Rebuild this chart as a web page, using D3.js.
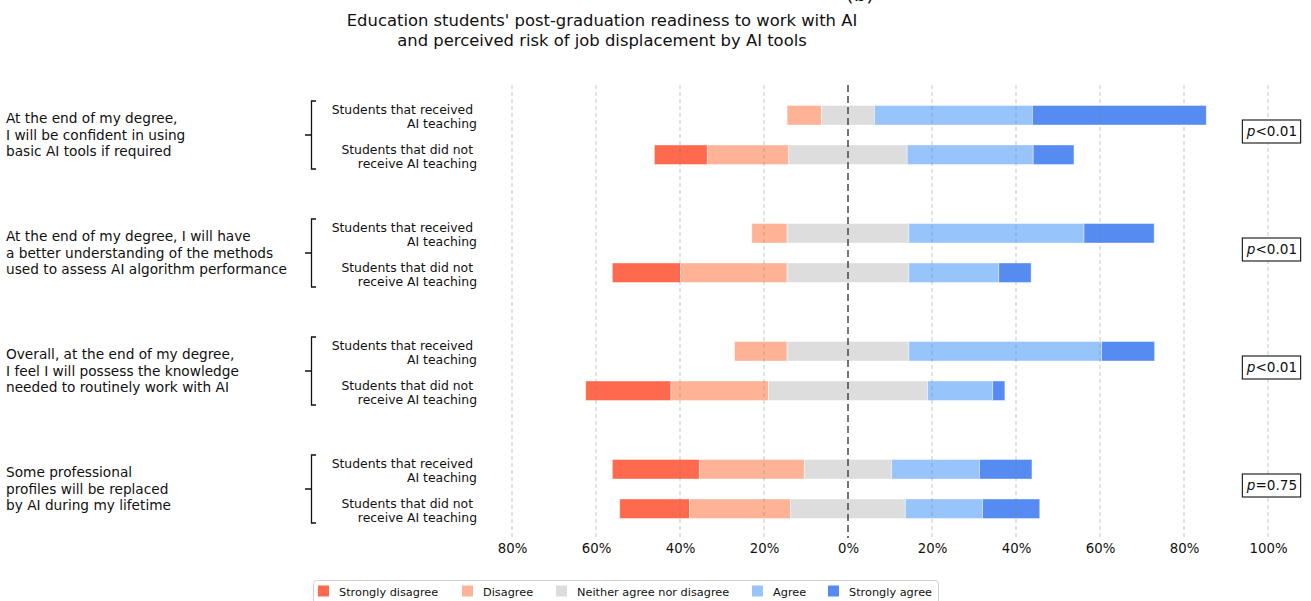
<!DOCTYPE html>
<html>
<head>
<meta charset="utf-8">
<script src="https://cdn.jsdelivr.net/npm/d3@7/dist/d3.min.js"></script>
<style>
  html, body { margin: 0; padding: 0; background: #fff; }
  svg { display: block; font-family: "DejaVu Sans", sans-serif; }
</style>
</head>
<body>
<svg id="chart" width="1311" height="601"></svg>
<script>
// Survey statements (each one drawn as a group of two bars)
const statements = [
  ["At the end of my degree,", "I will be confident in using", "basic AI tools if required"],
  ["At the end of my degree, I will have", "a better understanding of the methods", "used to assess AI algorithm performance"],
  ["Overall, at the end of my degree,", "I feel I will possess the knowledge", "needed to routinely work with AI"],
  ["Some professional", "profiles will be replaced", "by AI during my lifetime"]
];
const cohorts = ["received", "notReceived"];
const cohortLabels = [
  ["Students that received ", "AI teaching"],
  ["Students that did not ", "receive AI teaching"]
];
const responses = ["Strongly disagree", "Disagree", "Neither agree nor disagree", "Agree", "Strongly agree"];
const responseColors = ["#ff6a4f", "#ffb396", "#dcdddc", "#98c4fc", "#568bf2"];

// Percent of each cohort giving each response, per statement
const received = [
  [0.0, 8.2, 12.6, 37.6, 41.4],
  [0.0, 8.4, 29.0, 41.7, 16.7],
  [0.0, 12.5, 29.0, 45.9, 12.6],
  [20.7, 25.0, 20.8, 20.9, 12.5]
];
const notReceived = [
  [12.6, 19.4, 28.2, 30.0, 9.7],
  [16.2, 25.4, 29.0, 21.4, 7.7],
  [20.3, 23.2, 37.9, 15.5, 2.9],
  [16.6, 24.1, 27.3, 18.4, 13.6]
];
const pValues = ["<0.01", "<0.01", "<0.01", "=0.75"];
const tickValues = [-80, -60, -40, -20, 0, 20, 40, 60, 80, 100];

const svg = d3.select("#chart");

const x = d3.scaleLinear().domain([-80, 100]).range([512, 1268]);
const yGroup = d3.scaleBand().domain(d3.range(statements.length)).range([76, 548]);
const ySub = d3.scalePoint().domain(cohorts).range([-19.75, 19.75]);
const barH = 19.5;
const color = d3.scaleOrdinal().domain(responses).range(responseColors);

// Diverging stack: half of the neutral share sits on each side of zero
function segments(vals) {
  let start = -(vals[0] + vals[1] + vals[2] / 2);
  return vals.map((v, i) => {
    const s = { key: responses[i], x0: start, x1: start + v };
    start += v;
    return s;
  }).filter(s => s.x1 - s.x0 > 0);
}

const rows = [];
statements.forEach((st, g) => {
  rows.push({ g, cohort: "received", segs: segments(received[g]) });
  rows.push({ g, cohort: "notReceived", segs: segments(notReceived[g]) });
});

// Panel letter (sits at the very top edge) and title
const title = svg.append("g").attr("text-anchor", "middle").attr("fill", "#111");
title.append("text").attr("x", 860).attr("y", 1).attr("font-size", 20).text("(b)");
title.append("text").attr("x", 602).attr("y", 26).attr("font-size", 16.4)
  .text("Education students' post-graduation readiness to work with AI");
title.append("text").attr("x", 602).attr("y", 46).attr("font-size", 16.4)
  .text("and perceived risk of job displacement by AI tools");

// Bars
const barG = svg.append("g");
rows.forEach(r => {
  const cy = yGroup(r.g) + yGroup.bandwidth() / 2 + ySub(r.cohort);
  barG.selectAll(null).data(r.segs).join("rect")
    .attr("x", d => x(d.x0))
    .attr("width", d => x(d.x1) - x(d.x0))
    .attr("y", cy - barH / 2)
    .attr("height", barH)
    .attr("fill", d => color(d.key))
    .attr("stroke", "rgba(255,255,255,0.5)")
    .attr("stroke-width", 0.8);
});

// Grid lines drawn over the bars
const gridTop = 85, gridBottom = 538;
svg.append("g").selectAll("line").data(tickValues.filter(v => v !== 0)).join("line")
  .attr("x1", d => x(d)).attr("x2", d => x(d))
  .attr("y1", gridTop).attr("y2", gridBottom)
  .attr("stroke", "rgba(120,120,120,0.42)")
  .attr("stroke-width", 1)
  .attr("stroke-dasharray", "4,3");
svg.append("line")
  .attr("x1", x(0)).attr("x2", x(0))
  .attr("y1", gridTop).attr("y2", gridBottom)
  .attr("stroke", "rgba(70,70,70,0.75)")
  .attr("stroke-width", 2)
  .attr("stroke-dasharray", "7,4");

// Bottom axis with absolute percentages
const xAxis = d3.axisBottom(x).tickValues(tickValues).tickSize(0).tickPadding(0)
  .tickFormat(d => Math.abs(d) + "%");
const axG = svg.append("g").attr("transform", "translate(0,544)").call(xAxis);
axG.select(".domain").remove();
axG.selectAll("text").attr("font-size", 13.3).attr("fill", "#111")
  .attr("font-family", "DejaVu Sans, sans-serif");

// Statement labels, brackets and cohort labels
statements.forEach((lines, g) => {
  const cy = yGroup(g) + yGroup.bandwidth() / 2;
  const t = svg.append("text").attr("x", 6).attr("font-size", 13.7).attr("fill", "#111");
  lines.forEach((ln, i) => {
    t.append("tspan").attr("x", 6).attr("y", cy + (i - 1) * 16.5 + 4.8).text(ln);
  });
  const bx = 311.5, top = cy - 34, bot = cy + 34;
  svg.append("path")
    .attr("d", `M${bx + 4.5},${top}H${bx}V${bot}H${bx + 4.5}M${bx},${cy}H${bx - 6.5}`)
    .attr("fill", "none").attr("stroke", "#111").attr("stroke-width", 1.3);
  cohorts.forEach((c, k) => {
    const sy = cy + ySub(c);
    const lt = svg.append("text").attr("text-anchor", "end").attr("font-size", 12.4)
      .attr("fill", "#111").attr("xml:space", "preserve");
    cohortLabels[k].forEach((ln, i) => {
      lt.append("tspan").attr("x", 477).attr("y", sy + (i === 0 ? -5 : 9) + 4.2).text(ln);
    });
  });
  // Significance box
  const pg = svg.append("g");
  const pt = pg.append("text").attr("x", 1272).attr("y", cy - 3.5 + 4.8)
    .attr("text-anchor", "middle").attr("font-size", 13.6).attr("fill", "#111");
  pt.append("tspan").attr("font-style", "italic").text("p");
  pt.append("tspan").text(pValues[g]);
  const bb = pt.node().getBBox();
  pg.insert("rect", "text")
    .attr("x", bb.x - 3.5).attr("y", cy - 3.5 - 11.5)
    .attr("width", bb.width + 7).attr("height", 23)
    .attr("fill", "#fff").attr("stroke", "#111").attr("stroke-width", 1.1);
});

// Legend
const legend = svg.append("g");
legend.append("rect").attr("x", 313.5).attr("y", 580.5).attr("width", 625).attr("height", 30)
  .attr("rx", 3).attr("fill", "#fff").attr("stroke", "#d0d0d0").attr("stroke-width", 1);
const legendX = [318, 462, 556, 752, 828];
responses.forEach((r, i) => {
  legend.append("rect").attr("x", legendX[i]).attr("y", 585.5).attr("width", 11).attr("height", 11)
    .attr("fill", color(r));
  legend.append("text").attr("x", legendX[i] + 21).attr("y", 595.5)
    .attr("font-size", 11.3).attr("fill", "#111").text(r);
});
</script>
</body>
</html>
